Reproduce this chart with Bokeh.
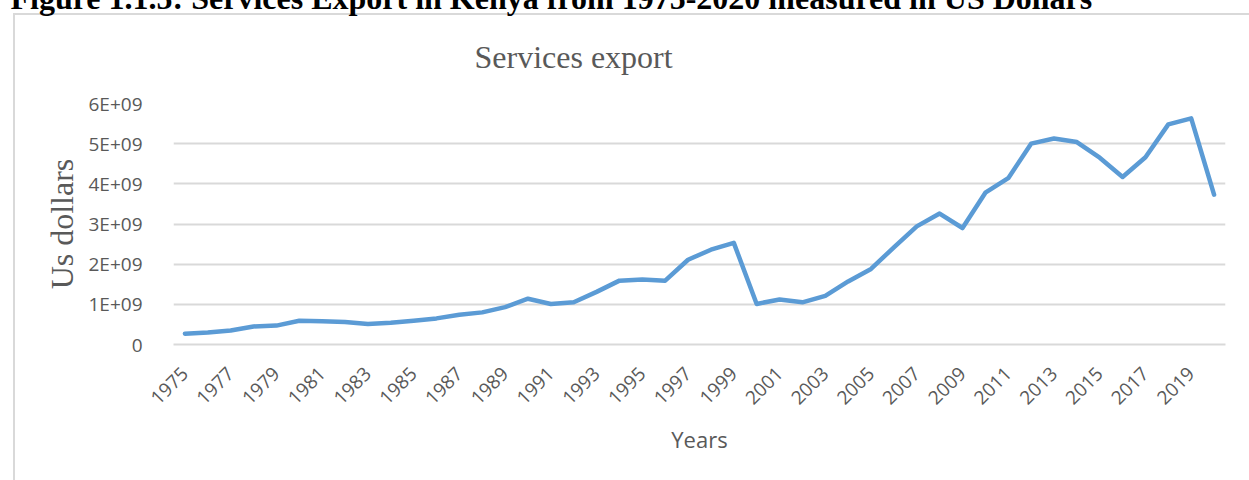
import math
from bokeh.plotting import figure
from bokeh.models import Range1d, FixedTicker, Title
from bokeh.embed import file_html
from bokeh.resources import INLINE

# ---- data ----
years = [1975, 1976, 1977, 1978, 1979, 1980, 1981, 1982, 1983, 1984,
         1985, 1986, 1987, 1988, 1989, 1990, 1991, 1992, 1993, 1994,
         1995, 1996, 1997, 1998, 1999, 2000, 2001, 2002, 2003, 2004,
         2005, 2006, 2007, 2008, 2009, 2010, 2011, 2012, 2013, 2014,
         2015, 2016, 2017, 2018, 2019, 2020]
services_export_bn = [0.27, 0.30, 0.35, 0.45, 0.47, 0.59, 0.58, 0.56, 0.51, 0.54,
                      0.59, 0.65, 0.74, 0.80, 0.93, 1.14, 1.01, 1.05, 1.31, 1.59,
                      1.62, 1.59, 2.11, 2.36, 2.53, 1.01, 1.12, 1.05, 1.21, 1.57,
                      1.88, 2.42, 2.94, 3.26, 2.90, 3.78, 4.14, 5.00, 5.13, 5.04,
                      4.65, 4.17, 4.66, 5.48, 5.63, 3.73]
services_export = [v * 1e9 for v in services_export_bn]
x_tick_years = [1975, 1977, 1979, 1981, 1983, 1985, 1987, 1989, 1991, 1993, 1995,
                1997, 1999, 2001, 2003, 2005, 2007, 2009, 2011, 2013, 2015, 2017, 2019]
y_tick_values = [0, 1e9, 2e9, 3e9, 4e9, 5e9, 6e9]
y_tick_labels = ["0", "1E+09", "2E+09", "3E+09", "4E+09", "5E+09", "6E+09"]
chart_title = "Services export"
x_label = "Years"
y_label = "Us dollars"
caption = "Figure 1.1.5: Services Export in Kenya from 1975-2020 measured in US Dollars"

GREY = "#595959"
GRID = "#d9d9d9"
LINE = "#5b9bd5"
SANS = "Open Sans"
SERIF = "Liberation Serif"

SHIFT = 30  # the page is scrolled up so that the caption is cut at the top edge

p = figure(width=1249, height=480 + SHIFT, output_backend="svg", toolbar_location=None,
           title=None,
           x_range=Range1d(years[0] - 0.5, years[-1] + 0.5),
           y_range=Range1d(y_tick_values[0], y_tick_values[-1]),
           min_border_left=173, min_border_right=24,
           min_border_top=103 + SHIFT, min_border_bottom=136)
p.margin = (-SHIFT, 0, 0, 0)
p.background_fill_color = "white"
p.border_fill_color = None
p.outline_line_color = None
# chart-area border of the original (left and top edges are visible)
p.styles = {
    "background": (f"linear-gradient({GRID},{GRID}) 13px {13 + SHIFT}px / 2px 2000px no-repeat, "
                   f"linear-gradient({GRID},{GRID}) 13px {13 + SHIFT}px / 3000px 2px no-repeat, "
                   "#ffffff"),
}

# chart title (closest to the frame)
t_chart = Title(text=chart_title, text_font=SERIF, text_font_size="32px",
                text_font_style="normal", text_color=GREY, align="left",
                offset=301, standoff=58, vertical_align="bottom")
p.add_layout(t_chart, "above")

# document caption above the chart (cut by the top edge)
t_cap = Title(text=caption, text_font=SERIF, text_font_size="32px",
              text_font_style="bold", text_color="black", align="left",
              offset=-163, standoff=-16, vertical_align="bottom")
p.add_layout(t_cap, "above")

# x axis
xa = p.xaxis[0]
xa.ticker = FixedTicker(ticks=x_tick_years)
xa.major_label_orientation = math.pi / 4
xa.major_label_text_font = SANS
xa.major_label_text_font_size = "19px"
xa.major_label_text_color = GREY
xa.major_label_standoff = 20
xa.major_tick_line_color = None
xa.minor_tick_line_color = None
xa.axis_line_color = GRID
xa.axis_line_width = 2
xa.axis_label = x_label
xa.axis_label_text_font = SANS
xa.axis_label_text_font_size = "22px"
xa.axis_label_text_font_style = "normal"
xa.axis_label_text_color = GREY
xa.axis_label_standoff = 11

# y axis
ya = p.yaxis[0]
ya.ticker = FixedTicker(ticks=y_tick_values)
ya.major_label_overrides = {v: s for v, s in zip(y_tick_values, y_tick_labels)}
ya.major_label_text_font = SANS
ya.major_label_text_font_size = "19px"
ya.major_label_text_color = GREY
ya.major_label_standoff = 25
ya.major_tick_line_color = None
ya.minor_tick_line_color = None
ya.axis_line_color = None
ya.axis_label = y_label
ya.axis_label_text_font = SERIF
ya.axis_label_text_font_size = "32px"
ya.axis_label_text_font_style = "normal"
ya.axis_label_text_color = GREY
ya.axis_label_standoff = 5

p.xgrid.grid_line_color = None
p.ygrid.grid_line_color = GRID
p.ygrid.grid_line_width = 2

p.line(years, services_export, line_color=LINE, line_width=4.5,
       line_join="round", line_cap="round")

open("out.html", "w").write(file_html(p, INLINE))
